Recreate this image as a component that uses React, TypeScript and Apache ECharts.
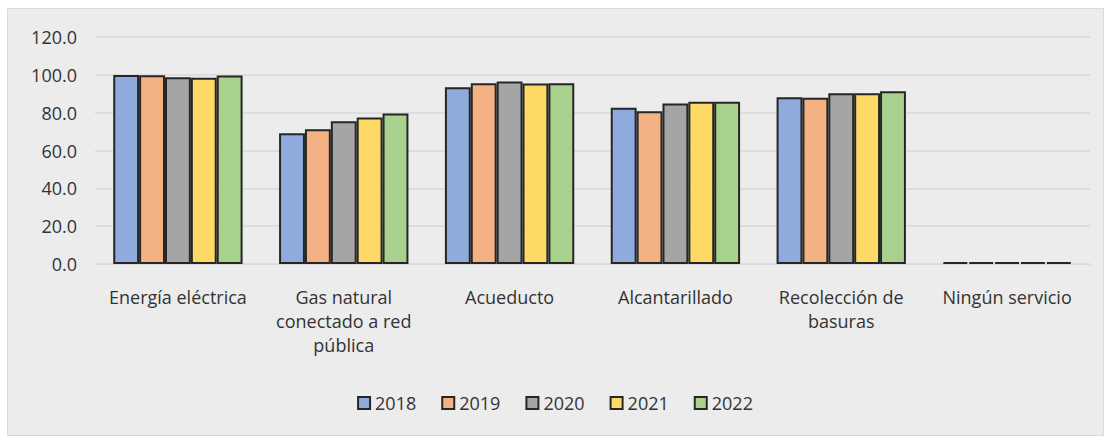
import React, { useEffect, useRef } from "react";
import * as echarts from "echarts";

const categories = [
  "Energía eléctrica",
  "Gas natural\nconectado a red\npública",
  "Acueducto",
  "Alcantarillado",
  "Recolección de\nbasuras",
  "Ningún servicio",
];
const years = ["2018", "2019", "2020", "2021", "2022"];
const v2018 = [99.9, 69.1, 93.5, 82.6, 88.1, 1.0];
const v2019 = [99.8, 71.2, 95.5, 80.7, 87.9, 1.0];
const v2020 = [98.7, 75.4, 96.5, 84.9, 90.2, 1.0];
const v2021 = [98.5, 77.5, 95.4, 85.8, 90.2, 1.0];
const v2022 = [99.7, 79.6, 95.5, 85.8, 91.3, 1.0];
const seriesValues = [v2018, v2019, v2020, v2021, v2022];
const colors = ["#8FAADC", "#F4B183", "#A5A5A5", "#FFD966", "#A9D18E"];
const yTicks = { min: 0, max: 120, interval: 20 };

const FONT = "'Open Sans', 'Noto Sans', sans-serif";
const TEXT = "#333333";

export default function App() {
  const ref = useRef<HTMLDivElement>(null);
  useEffect(() => {
    document.body.style.margin = "0";
    const chart = echarts.init(ref.current!, null, { renderer: "svg" });
    chart.setOption({
      animation: false,
      backgroundColor: "#ffffff",
      graphic: [
        {
          type: "rect",
          shape: { x: 7.5, y: 8.5, width: 1096, height: 427 },
          style: { fill: "#ECECEC", stroke: "#D9D9D9", lineWidth: 1 },
          z: -10,
          silent: true,
        },
      ],
      grid: { left: 95, right: 20, top: 37, bottom: 173, containLabel: false },
      legend: {
        data: years,
        bottom: 20,
        left: "center",
        itemWidth: 12,
        itemHeight: 12,
        itemGap: 25,
        icon: "rect",
        textStyle: { fontFamily: FONT, fontSize: 18, color: TEXT },
      },
      xAxis: {
        type: "category",
        data: categories,
        axisLine: { show: true, lineStyle: { color: "#D9D9D9" } },
        axisTick: { show: false },
        axisLabel: {
          interval: 0,
          margin: 21,
          fontFamily: FONT,
          fontSize: 18,
          color: TEXT,
          lineHeight: 24,
        },
      },
      yAxis: {
        type: "value",
        min: yTicks.min,
        max: yTicks.max,
        interval: yTicks.interval,
        axisLine: { show: false },
        axisTick: { show: false },
        splitLine: { lineStyle: { color: "#D9D9D9", width: 1.5 } },
        axisLabel: {
          formatter: (v: number) => v.toFixed(1),
          margin: 18,
          fontFamily: FONT,
          fontSize: 18,
          color: TEXT,
        },
      },
      series: years.map((y, i) => ({
        name: y,
        type: "bar",
        data: seriesValues[i],
        barGap: "0%",
        barCategoryGap: "22%",
        itemStyle: { color: colors[i], borderColor: "#262626", borderWidth: 2 },
      })),
    });
    return () => chart.dispose();
  }, []);
  return <div ref={ref} style={{ width: 1110, height: 437 }} />;
}
